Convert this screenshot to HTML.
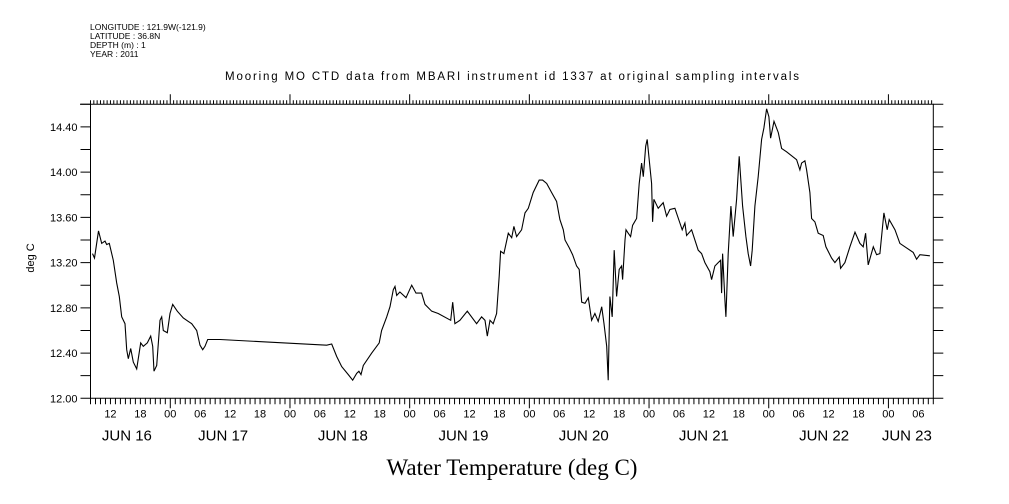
<!DOCTYPE html>
<html><head><meta charset="utf-8">
<style>
html,body{margin:0;padding:0;background:#fff;}
svg{display:block;font-family:"Liberation Sans",sans-serif;}
</style></head>
<body>
<svg id="chart" width="1009" height="504" viewBox="0 0 1009 504" xmlns="http://www.w3.org/2000/svg">
<rect width="1009" height="504" fill="#fff"/>
<g font-size="8.5" fill="#000">
<text x="90" y="30">LONGITUDE : 121.9W(-121.9)</text>
<text x="90" y="39">LATITUDE : 36.8N</text>
<text x="90" y="48">DEPTH (m) : 1</text>
<text x="90" y="57">YEAR : 2011</text>
</g>
<text x="512" y="80" text-anchor="middle" font-size="11.5" textLength="574">Mooring MO CTD data from MBARI instrument id 1337 at original sampling intervals</text>
<text transform="translate(34,258) rotate(-90)" text-anchor="middle" font-size="11">deg C</text>
<text x="512" y="475" text-anchor="middle" font-family="Liberation Serif, serif" font-size="23">Water Temperature (deg C)</text>
<g id="axes"></g>
<g id="plot"></g>
</svg>
<script>
// hours since JUN 16 08:00
const hours = [0.4,0.8,1.6,2.25,2.91,3.25,3.77,4.57,5.25,5.77,6.26,6.92,7.26,7.58,8.06,8.58,9.26,10.07,10.59,11.39,12.07,12.47,12.73,13.27,13.93,14.28,14.6,15.4,15.94,16.48,17.4,18.61,19.61,20.29,21.29,21.95,22.5,22.96,23.5,25.96,47.36,48.36,49.36,50.37,51.69,52.57,53.37,53.83,54.24,54.7,56.38,57.9,58.38,59.39,60.05,60.71,61.05,61.39,62.05,63.26,64.4,65.26,66.4,67.07,68.41,69.73,72.22,72.62,73.08,74.08,75.55,77.43,78.43,79.1,79.56,80.1,80.76,81.44,81.96,82.24,82.9,83.77,84.45,84.91,85.45,86.45,87.12,87.78,88.78,89.98,90.66,91.47,92.47,93.47,94.13,94.8,95.14,96.0,96.68,97.48,98.0,98.49,99.15,99.81,100.49,101.15,101.81,102.5,102.96,103.5,103.82,104.16,104.62,105.02,105.5,106.02,106.5,106.7,107.17,107.37,107.83,108.31,108.71,109.51,110.03,110.51,110.84,111.32,111.64,112.04,112.52,112.72,112.98,113.84,114.84,115.53,116.19,117.19,118.19,118.65,119.2,119.54,120.54,121.86,122.54,123.2,124.21,124.55,125.21,125.87,126.35,126.55,126.75,127.21,127.41,127.88,128.42,128.88,129.56,130.08,130.76,131.43,131.89,132.37,132.69,133.23,133.89,134.57,135.04,135.58,136.04,136.38,137.05,137.91,138.59,139.59,141.59,142.25,142.59,143.26,143.6,144.26,144.6,145.26,145.92,146.92,147.46,148.61,149.27,150.14,150.42,151.28,152.28,153.29,154.29,154.95,155.43,155.95,156.96,157.64,158.3,159.1,159.76,160.16,161.31,162.31,163.65,164.97,165.66,166.32,168.32];
const temps = [13.28,13.24,13.48,13.37,13.39,13.36,13.37,13.22,13.02,12.9,12.72,12.66,12.43,12.35,12.44,12.32,12.26,12.49,12.46,12.49,12.55,12.46,12.24,12.29,12.69,12.72,12.6,12.58,12.75,12.83,12.77,12.71,12.68,12.66,12.6,12.47,12.43,12.46,12.52,12.52,12.47,12.48,12.37,12.28,12.21,12.16,12.22,12.24,12.21,12.29,12.4,12.49,12.6,12.72,12.81,12.96,12.99,12.91,12.94,12.89,13.0,12.93,12.93,12.83,12.77,12.75,12.69,12.85,12.66,12.69,12.77,12.66,12.72,12.69,12.55,12.69,12.66,12.75,13.08,13.3,13.28,13.46,13.42,13.52,13.43,13.49,13.64,13.68,13.82,13.93,13.93,13.9,13.82,13.74,13.58,13.49,13.4,13.33,13.27,13.17,13.14,12.85,12.84,12.89,12.69,12.75,12.68,12.81,12.66,12.46,12.16,12.9,12.72,13.31,12.9,13.14,13.17,13.05,13.4,13.49,13.46,13.43,13.53,13.59,13.9,14.08,13.96,14.23,14.29,14.11,13.9,13.56,13.76,13.68,13.73,13.61,13.67,13.68,13.55,13.49,13.55,13.44,13.49,13.31,13.28,13.2,13.12,13.05,13.17,13.2,13.22,12.93,13.28,12.87,12.72,13.28,13.7,13.43,13.76,14.14,13.7,13.43,13.28,13.17,13.31,13.7,13.96,14.29,14.39,14.56,14.49,14.3,14.45,14.35,14.21,14.18,14.11,14.02,14.08,14.1,14.02,13.82,13.59,13.56,13.46,13.44,13.34,13.24,13.2,13.25,13.15,13.2,13.34,13.47,13.37,13.34,13.46,13.18,13.34,13.27,13.28,13.64,13.49,13.58,13.49,13.37,13.33,13.29,13.23,13.27,13.26];
const yTickLabels = ["12.00","12.40","12.80","13.20","13.60","14.00","14.40"];
const dayLabels = ["JUN 16","JUN 17","JUN 18","JUN 19","JUN 20","JUN 21","JUN 22","JUN 23"];
const dayLabelHour = [7.3,26.6,50.6,74.8,98.9,123.0,147.1,163.7];
const hourLabels = ["12","18","00","06"];

const L=90.5,R=933.3,T=104.3,B=398.3,H0=0,H1=169,V0=12,V1=14.6;
const xs=h=>L+(h-H0)/(H1-H0)*(R-L);
const ys=v=>B-(v-V0)/(V1-V0)*(B-T);
const NS="http://www.w3.org/2000/svg";
const axes=document.getElementById('axes'), plot=document.getElementById('plot');
function mk(tag,attrs,parent){const e=document.createElementNS(NS,tag);for(const k in attrs)e.setAttribute(k,attrs[k]);parent.appendChild(e);return e;}

const frame=mk('path',{d:`M80 ${T}H${R}V${B}H${L}V${T}`,fill:'none',stroke:'#000','stroke-width':1},axes);



for(let i=0;i<=13;i++){
  const v=12+i*0.2, y=ys(v);
  const t=mk('path',{d:`M${L-10} ${y}H${L}M${R} ${y}H${R+10}`,stroke:'#000','stroke-width':1},axes);
  
  
  if(i%2===0 && i/2<yTickLabels.length){
    const tx=mk('text',{x:L-13,y:y+4,'text-anchor':'end','font-size':11},axes);
    tx.textContent=yTickLabels[i/2];
    
    
  }
}
let dtop='',dbot='';
for(let h=0;h<=169;h++){
  const x=xs(h), clock=(h+8)%24;
  const major=clock===0;
  dbot+=`M${x} ${B}v${major?10:6}`;
  if(clock%6===0){
    const tx=mk('text',{x:x,y:B+19,'text-anchor':'middle','font-size':11},axes);
    tx.textContent=hourLabels[[12,18,0,6].indexOf(clock)];
    
    
  }
  if(major) dtop+=`M${x} ${T}v-10`;
}
for(let m=0;m<=169*60;m+=40){ dtop+=`M${xs(m/60)} ${T}v-4`; }
const bt=mk('path',{d:dbot,stroke:'#000','stroke-width':1},axes);


const tt=mk('path',{d:dtop,stroke:'#000','stroke-width':1},axes);


dayLabels.forEach((d,i)=>{
  const tx=mk('text',{x:xs(dayLabelHour[i]),y:B+42,'text-anchor':'middle','font-size':15},axes);
  tx.textContent=d;
  
  
});

let d='';
hours.forEach((h,i)=>{d+=(i?'L':'M')+xs(h).toFixed(1)+' '+ys(temps[i]).toFixed(1);});
const line=mk('path',{d:d,fill:'none',stroke:'#000','stroke-width':1.1},plot);


</script>
</body></html>
